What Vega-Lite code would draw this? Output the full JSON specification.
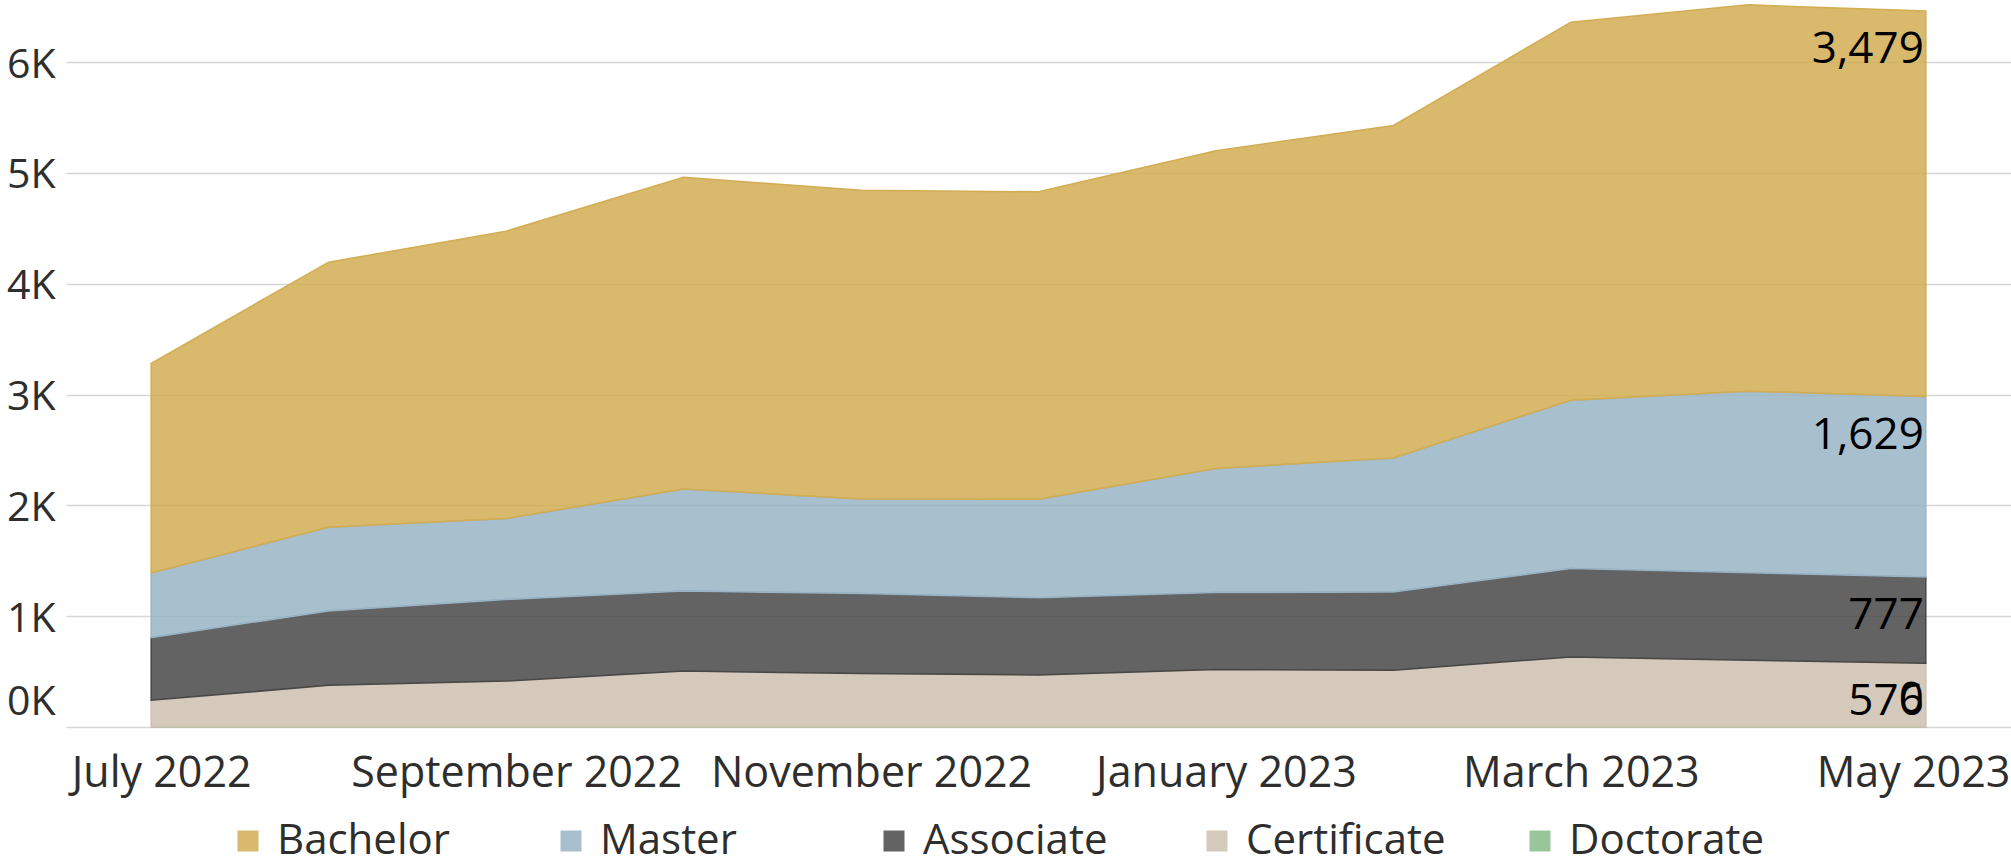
{
  "$schema": "https://vega.github.io/schema/vega-lite/v6.json",
  "width": 1945,
  "height": 727,
  "autosize": {"type": "none"},
  "padding": {"left": 66, "top": 0, "right": 0, "bottom": 138},
  "background": "white",
  "config": {"font": "Open Sans", "view": {"stroke": null}},
  "data": {
    "values": [
      {"Month": "July 2022", "Degree": "Doctorate", "Count": 0},
      {"Month": "August 2022", "Degree": "Doctorate", "Count": 0},
      {"Month": "September 2022", "Degree": "Doctorate", "Count": 0},
      {"Month": "October 2022", "Degree": "Doctorate", "Count": 0},
      {"Month": "November 2022", "Degree": "Doctorate", "Count": 0},
      {"Month": "December 2022", "Degree": "Doctorate", "Count": 0},
      {"Month": "January 2023", "Degree": "Doctorate", "Count": 0},
      {"Month": "February 2023", "Degree": "Doctorate", "Count": 0},
      {"Month": "March 2023", "Degree": "Doctorate", "Count": 0},
      {"Month": "April 2023", "Degree": "Doctorate", "Count": 0},
      {"Month": "May 2023", "Degree": "Doctorate", "Count": 0},
      {"Month": "July 2022", "Degree": "Certificate", "Count": 241},
      {"Month": "August 2022", "Degree": "Certificate", "Count": 376},
      {"Month": "September 2022", "Degree": "Certificate", "Count": 415},
      {"Month": "October 2022", "Degree": "Certificate", "Count": 505},
      {"Month": "November 2022", "Degree": "Certificate", "Count": 482},
      {"Month": "December 2022", "Degree": "Certificate", "Count": 469},
      {"Month": "January 2023", "Degree": "Certificate", "Count": 519},
      {"Month": "February 2023", "Degree": "Certificate", "Count": 512},
      {"Month": "March 2023", "Degree": "Certificate", "Count": 632},
      {"Month": "April 2023", "Degree": "Certificate", "Count": 602},
      {"Month": "May 2023", "Degree": "Certificate", "Count": 576},
      {"Month": "July 2022", "Degree": "Associate", "Count": 566},
      {"Month": "August 2022", "Degree": "Associate", "Count": 671},
      {"Month": "September 2022", "Degree": "Associate", "Count": 735},
      {"Month": "October 2022", "Degree": "Associate", "Count": 722},
      {"Month": "November 2022", "Degree": "Associate", "Count": 722},
      {"Month": "December 2022", "Degree": "Associate", "Count": 697},
      {"Month": "January 2023", "Degree": "Associate", "Count": 694},
      {"Month": "February 2023", "Degree": "Associate", "Count": 706},
      {"Month": "March 2023", "Degree": "Associate", "Count": 798},
      {"Month": "April 2023", "Degree": "Associate", "Count": 790},
      {"Month": "May 2023", "Degree": "Associate", "Count": 777},
      {"Month": "July 2022", "Degree": "Master", "Count": 583},
      {"Month": "August 2022", "Degree": "Master", "Count": 755},
      {"Month": "September 2022", "Degree": "Master", "Count": 731},
      {"Month": "October 2022", "Degree": "Master", "Count": 920},
      {"Month": "November 2022", "Degree": "Master", "Count": 854},
      {"Month": "December 2022", "Degree": "Master", "Count": 889},
      {"Month": "January 2023", "Degree": "Master", "Count": 1120},
      {"Month": "February 2023", "Degree": "Master", "Count": 1210},
      {"Month": "March 2023", "Degree": "Master", "Count": 1519},
      {"Month": "April 2023", "Degree": "Master", "Count": 1638},
      {"Month": "May 2023", "Degree": "Master", "Count": 1629},
      {"Month": "July 2022", "Degree": "Bachelor", "Count": 1892},
      {"Month": "August 2022", "Degree": "Bachelor", "Count": 2392},
      {"Month": "September 2022", "Degree": "Bachelor", "Count": 2593},
      {"Month": "October 2022", "Degree": "Bachelor", "Count": 2813},
      {"Month": "November 2022", "Degree": "Bachelor", "Count": 2786},
      {"Month": "December 2022", "Degree": "Bachelor", "Count": 2774},
      {"Month": "January 2023", "Degree": "Bachelor", "Count": 2866},
      {"Month": "February 2023", "Degree": "Bachelor", "Count": 3000},
      {"Month": "March 2023", "Degree": "Bachelor", "Count": 3411},
      {"Month": "April 2023", "Degree": "Bachelor", "Count": 3486},
      {"Month": "May 2023", "Degree": "Bachelor", "Count": 3479}
    ]
  },
  "transform": [
    {"calculate": "indexof(['Doctorate','Certificate','Associate','Master','Bachelor'], datum.Degree)", "as": "ord"}
  ],
  "encoding": {
    "x": {
      "field": "Month",
      "type": "ordinal",
      "sort": ["July 2022", "August 2022", "September 2022", "October 2022", "November 2022", "December 2022", "January 2023", "February 2023", "March 2023", "April 2023", "May 2023"],
      "scale": {"type": "point", "padding": 0.48},
      "axis": {
        "title": null,
        "values": ["July 2022", "September 2022", "November 2022", "January 2023", "March 2023", "May 2023"],
        "domain": false,
        "ticks": false,
        "grid": false,
        "labelAngle": 0,
        "labelFontSize": 43,
        "labelColor": "#2e2e2e",
        "labelPadding": 25,
        "labelLimit": 0,
        "labelOverlap": false,
        "labelAlign": {"condition": {"test": "datum.value === 'May 2023'", "value": "right"}, "value": "center"},
        "labelOffset": {"condition": {"test": "datum.value === 'May 2023'", "value": 84}, "value": 10}
      }
    }
  },
  "layer": [
    {
      "mark": {"type": "area", "fillOpacity": 0.85, "strokeWidth": 1.5, "strokeOpacity": 1},
      "encoding": {
        "y": {
          "field": "Count",
          "type": "quantitative",
          "stack": "zero",
          "scale": {"domain": [0, 6560], "nice": false},
          "axis": {
            "title": null,
            "values": [0, 1000, 2000, 3000, 4000, 5000, 6000],
            "labelExpr": "datum.value / 1000 + 'K'",
            "domain": false,
            "ticks": false,
            "grid": true,
            "gridColor": "#d6d6d6",
            "gridWidth": 1.5,
            "labelFontSize": 41,
            "labelColor": "#2e2e2e",
            "labelPadding": 11,
            "labelOffset": {"condition": {"test": "datum.value === 0", "value": -25}, "value": 3}
          }
        },
        "color": {
          "field": "Degree",
          "type": "nominal",
          "scale": {
            "domain": ["Bachelor", "Master", "Associate", "Certificate", "Doctorate"],
            "range": ["#D2AD52", "#99B4C6", "#484848", "#CEC0B0", "#86BC87"]
          },
          "legend": {
            "orient": "none",
            "legendX": 161,
            "legendY": 820,
            "direction": "horizontal",
            "columns": 5,
            "gridAlign": "all",
            "columnPadding": 73,
            "title": null,
            "symbolType": "square",
            "symbolSize": 441,
            "symbolStrokeWidth": 0,
            "symbolOpacity": 0.85,
            "labelFontSize": 42,
            "labelColor": "#2e2e2e",
            "labelOffset": 8,
            "labelLimit": 0
          }
        },
        "stroke": {
          "field": "Degree",
          "type": "nominal",
          "scale": {
            "domain": ["Bachelor", "Master", "Associate", "Certificate", "Doctorate"],
            "range": ["#D2AD52", "#99B4C6", "#484848", "#CEC0B0", "#86BC87"]
          },
          "legend": null
        },
        "order": {"field": "ord", "type": "quantitative"}
      }
    },
    {
      "transform": [{"filter": "datum.Month === 'May 2023' && datum.Degree !== 'Doctorate'"}],
      "mark": {"type": "text", "align": "right", "baseline": "alphabetic", "dx": -2, "dy": 52, "fontSize": 44, "color": "#000000"},
      "encoding": {
        "y": {"field": "Count", "type": "quantitative", "stack": "zero"},
        "detail": {"field": "Degree", "type": "nominal"},
        "order": {"field": "ord", "type": "quantitative"},
        "text": {"field": "Count", "type": "quantitative", "format": ","}
      }
    },
    {
      "transform": [{"filter": "datum.Month === 'May 2023' && datum.Degree === 'Doctorate'"}],
      "mark": {"type": "text", "align": "right", "baseline": "alphabetic", "dx": -2, "dy": -14, "fontSize": 44, "color": "#000000"},
      "encoding": {
        "y": {"field": "Count", "type": "quantitative"},
        "text": {"field": "Count", "type": "quantitative", "format": ","}
      }
    }
  ]
}
